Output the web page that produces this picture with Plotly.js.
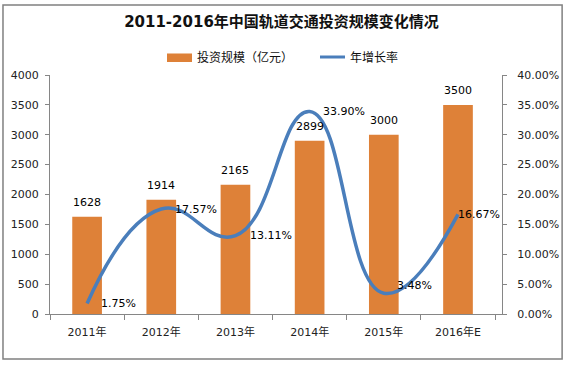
<!DOCTYPE html>
<html>
<head>
<meta charset="utf-8">
<script src="https://cdn.plot.ly/plotly-3.0.1.min.js"></script>
<style>body{margin:0;background:#fff}#chart{width:568px;height:365px}</style>
</head>
<body>
<div id="chart"></div>
<script>
var categories = ['2011年', '2012年', '2013年', '2014年', '2015年', '2016年E'];
var investment = [1628, 1914, 2165, 2899, 3000, 3500];
var growthRate = [0.0175, 0.1757, 0.1311, 0.3390, 0.0348, 0.1667];
var growthLabels = ['1.75%', '17.57%', '13.11%', '33.90%', '3.48%', '16.67%'];
var seriesNames = ['投资规模（亿元）', '年增长率'];

// label offsets (styling only)
var rateLabelXShift = [12, 12, 13, 11, 11, -2];
var rateLabelYShift = [0, 0, 0, 0, 8, 0];

var FONT = 'DejaVu Sans, Noto Sans CJK SC, sans-serif';
var BAR_COLOR = '#DE8138';
var LINE_COLOR = '#4A7EBB';

var bars = {
  type: 'bar', name: seriesNames[0], x: categories, y: investment,
  marker: {color: BAR_COLOR}, hoverinfo: 'none', showlegend: false
};
var line = {
  type: 'scatter', mode: 'lines', name: seriesNames[1], x: categories, y: growthRate,
  yaxis: 'y2', line: {color: LINE_COLOR, width: 3.5, shape: 'spline', smoothing: 1.3},
  cliponaxis: false, hoverinfo: 'none', showlegend: false
};

var annotations = [];
categories.forEach(function (c, i) {
  annotations.push({xref: 'x', yref: 'y', x: c, y: investment[i], text: String(investment[i]),
    showarrow: false, xanchor: 'center', yanchor: 'middle', yshift: 14,
    font: {family: FONT, size: 11, color: '#000'}});
  annotations.push({xref: 'x', yref: 'y2', x: c, y: growthRate[i], text: growthLabels[i],
    showarrow: false, xanchor: 'left', yanchor: 'middle',
    xshift: rateLabelXShift[i], yshift: rateLabelYShift[i],
    font: {family: FONT, size: 11, color: '#000'}});
});
// custom legend text
annotations.push({xref: 'paper', yref: 'paper', x: 0.3208, y: 1.0753, text: seriesNames[0],
  showarrow: false, xanchor: 'left', yanchor: 'middle', font: {family: FONT, size: 12, color: '#111'}});
annotations.push({xref: 'paper', yref: 'paper', x: 0.6593, y: 1.0753, text: seriesNames[1],
  showarrow: false, xanchor: 'left', yanchor: 'middle', font: {family: FONT, size: 12, color: '#111'}});

var layout = {
  width: 568, height: 365,
  margin: {l: 50, r: 66, t: 75, b: 51},
  paper_bgcolor: '#fff', plot_bgcolor: '#fff',
  font: {family: FONT, size: 11, color: '#222'},
  title: {text: '<b>2011-2016年中国轨道交通投资规模变化情况</b>', x: 0.4956, xanchor: 'center', y: 0.94, yanchor: 'middle',
          font: {family: FONT, size: 15, color: '#111'}},
  showlegend: false,
  bargap: 0.6,
  xaxis: {type: 'category', showline: true, linecolor: '#868686', linewidth: 1,
          ticks: 'outside', ticklen: 5, tickcolor: '#868686', tickson: 'boundaries', ticklabelstandoff: 8,
          tickfont: {family: FONT, size: 11, color: '#222'}, showgrid: false, fixedrange: true},
  yaxis: {range: [0, 4000], dtick: 500, showline: true, linecolor: '#868686', linewidth: 1,
          ticks: 'outside', ticklen: 4, tickcolor: '#868686', showgrid: false, zeroline: false,
          ticklabelstandoff: 4, tickfont: {family: FONT, size: 11, color: '#222'}},
  yaxis2: {range: [0, 0.4], dtick: 0.05, tickformat: '.2%', overlaying: 'y', side: 'right',
           showline: true, linecolor: '#868686', linewidth: 1, ticks: 'outside', ticklen: 4,
           tickcolor: '#868686', showgrid: false, zeroline: false, ticklabelstandoff: 8,
           tickfont: {family: FONT, size: 11, color: '#222'}},
  annotations: annotations,
  shapes: [
    {type: 'rect', xref: 'paper', yref: 'paper', x0: -0.104, x1: 1.133, y0: -0.188, y1: 1.293,
     line: {color: '#808080', width: 1.5}, fillcolor: 'rgba(0,0,0,0)', layer: 'below'},
    {type: 'rect', xref: 'paper', yref: 'paper', x0: 0.2588, x1: 0.3142, y0: 1.0544, y1: 1.0900,
     line: {width: 0}, fillcolor: BAR_COLOR},
    {type: 'line', xref: 'paper', yref: 'paper', x0: 0.5973, x1: 0.6527, y0: 1.0753, y1: 1.0753,
     line: {color: LINE_COLOR, width: 3}}
  ]
};

Plotly.newPlot('chart', [bars, line], layout, {displayModeBar: false, staticPlot: true});
</script>
</body>
</html>
